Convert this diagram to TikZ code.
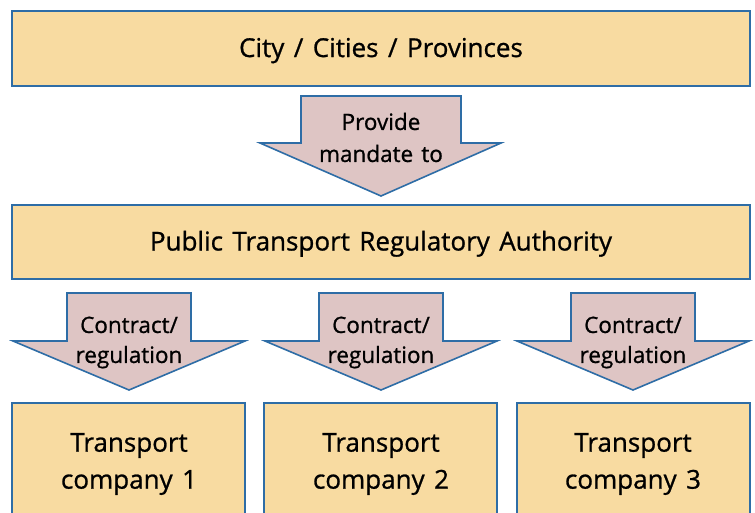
\documentclass[tikz,border=0pt]{standalone}
\usepackage{fontspec}
\setmainfont{Open Sans}[FakeBold=0.9, WordSpace=1.4]
\definecolor{boxfill}{HTML}{F8DBA1}
\definecolor{boxline}{HTML}{2E6DA6}
\definecolor{arrfill}{HTML}{DEC5C4}
\tikzset{
  box/.style={draw=boxline, line width=2.4pt, fill=boxfill},
  thinbox/.style={draw=boxline, line width=2pt, fill=boxfill},
  arr/.style={draw=boxline, line width=1.6pt, fill=arrfill, line join=miter},
  bigtext/.style={font=\fontsize{26}{37}\selectfont, align=center, inner sep=0pt},
  arrtext/.style={font=\fontsize{22.5}{30}\selectfont, align=center, inner sep=0pt},
  mandtext/.style={font=\fontsize{22.5}{32}\selectfont, align=center, inner sep=0pt}
}
\begin{document}
\begin{tikzpicture}[x=1pt,y=-1pt]
\useasboundingbox (0,0) rectangle (755,512);
% boxes
\draw[box] (12,11) rectangle (750,86);
\node[bigtext, anchor=base] (city) at (381,57) {City / Cities / Provinces};
\draw[box] (12,205) rectangle (750,279);
\node[bigtext, anchor=base] (ptra) at (381,250.5) {Public Transport Regulatory Authority};
\draw[thinbox] (12,403) rectangle (245,540);
\draw[thinbox] (264,403) rectangle (497,540);
\draw[thinbox] (517,403) rectangle (750,540);
\node[bigtext] (tc1) at (129,464) {Transport\\company 1};
\node[bigtext] (tc2) at (381,464) {Transport\\company 2};
\node[bigtext] (tc3) at (633,464) {Transport\\company 3};
% arrows
\draw[arr] (301,96) -- (461,96) -- (461,143) -- (501,143) -- (381,196) -- (260,143) -- (301,143) -- cycle;
\node[mandtext] (mand) at (381,137.5) {Provide\\mandate to};
\foreach \c/\n in {129/a, 381/b, 633/c}{
  \draw[arr] (\c-62,293) -- (\c+62,293) -- (\c+62,341) -- (\c+116,341) -- (\c,390) -- (\c-116,341) -- (\c-62,341) -- cycle;
  \node[arrtext] (lab\n) at (\c,342.5) {Contract/\\regulation};
}
\end{tikzpicture}
\end{document}
